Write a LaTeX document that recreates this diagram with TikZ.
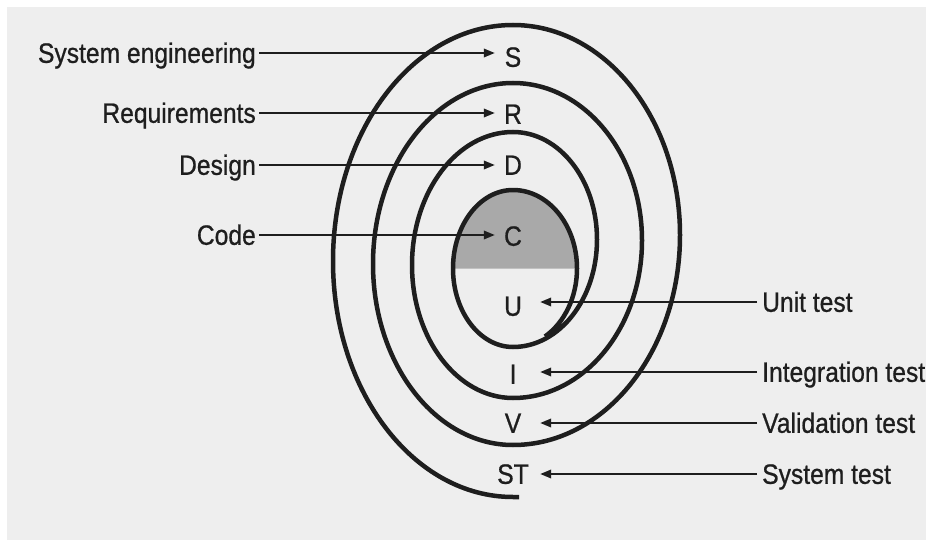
\documentclass[tikz,border=0pt]{standalone}
\usepackage{graphicx}
\usepackage{fontspec}
\setmainfont[FakeBold=0.8]{Liberation Sans}
\usetikzlibrary{arrows.meta}
\definecolor{bg}{HTML}{EEEEEE}
\definecolor{ink}{HTML}{1E1E1E}
\definecolor{shadegray}{HTML}{A9A9A9}
\newcommand{\cnd}[1]{\scalebox{0.88}[1]{#1}}
\tikzset{
  lab/.style={inner sep=0pt, text height=19.6pt, text depth=0pt,
    font=\fontsize{28}{30}\selectfont, text=ink},
  letl/.style={lab, minimum width=36pt, align=center},
  letr/.style={lab, minimum width=54pt, align=center},
  arr/.style={draw=ink, line width=2pt, -{Triangle[length=11pt,width=8.5pt]}},
  spiralline/.style={draw=ink, line width=4.5pt, line join=round}
}
\begin{document}
\begin{tikzpicture}[x=1pt,y=-1pt]
\useasboundingbox (0,0) rectangle (926,540);
\fill[white] (0,0) rectangle (926,540);
\fill[bg] (7,7) rectangle (926,540);
% shaded upper half of the innermost loop
\fill[shadegray] (453,268.5) arc[start angle=180,end angle=270,x radius=60,y radius=78.5]
  arc[start angle=270,end angle=360,x radius=64,y radius=78.5] -- cycle;
% spiral
\draw[spiralline] (519,497) -- (513,497)
  arc[start angle=90,end angle=270,x radius=180,y radius=236]
  arc[start angle=270,end angle=450,x radius=167,y radius=210]
  arc[start angle=90,end angle=270,x radius=140,y radius=181]
  arc[start angle=270,end angle=450,x radius=129,y radius=157.5]
  arc[start angle=90,end angle=270,x radius=101,y radius=133]
  arc[start angle=270,end angle=450,x radius=84,y radius=107.5]
  arc[start angle=90,end angle=270,x radius=60,y radius=78.5]
  arc[start angle=270,end angle=420,x radius=64,y radius=78.5];
% letters
\node[letl] (S) at (513,57) {\cnd{S}};
\node[letl] (R) at (513,114) {\cnd{R}};
\node[letl] (D) at (513,165) {\cnd{D}};
\node[letl] (C) at (513,236) {\cnd{C}};
\node[letr] (U) at (513,306) {\cnd{U}};
\node[letr] (I) at (513,374) {\cnd{I}};
\node[letr] (V) at (513,423) {\cnd{V}};
\node[letr] (ST) at (513,474) {\cnd{ST}};
% left labels
\node[lab, anchor=east] (se) at (256,53) {\cnd{System engineering}};
\node[lab, anchor=east] (rq) at (256,113) {\cnd{Requirements}};
\node[lab, anchor=east] (dg) at (256,165) {\cnd{Design}};
\node[lab, anchor=east] (cd) at (256,235) {\cnd{Code}};
% right labels
\node[lab, anchor=west] (ut) at (762,302) {\cnd{Unit test}};
\node[lab, anchor=west] (it) at (762,372) {\cnd{Integration test}};
\node[lab, anchor=west] (vt) at (762,423) {\cnd{Validation test}};
\node[lab, anchor=west] (st) at (762,474) {\cnd{System test}};
% arrows
\draw[arr, shorten <=3pt] (se.east) -- (se.east -| S.west);
\draw[arr, shorten <=3pt] (rq.east) -- (rq.east -| R.west);
\draw[arr, shorten <=3pt] (dg.east) -- (dg.east -| D.west);
\draw[arr, shorten <=3pt] (cd.east) -- (cd.east -| C.west);
\draw[arr, shorten <=5pt] (ut.west) -- (ut.west -| U.east);
\draw[arr, shorten <=5pt] (it.west) -- (it.west -| I.east);
\draw[arr, shorten <=5pt] (vt.west) -- (vt.west -| V.east);
\draw[arr, shorten <=5pt] (st.west) -- (st.west -| ST.east);
\end{tikzpicture}
\end{document}
